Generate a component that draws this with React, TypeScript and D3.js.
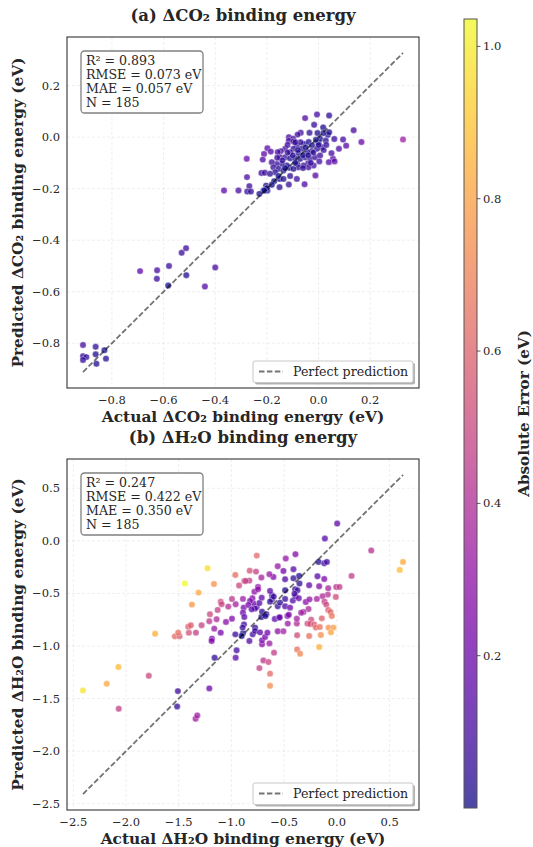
import React from "react";
import * as d3 from "d3";

// [actual, predicted] pairs, eV
const co2Points: [number, number][] = [
  [-0.912, -0.807], [-0.863, -0.814], [-0.912, -0.85], [-0.899, -0.854], [-0.863, -0.843],
  [-0.829, -0.827], [-0.912, -0.865], [-0.86, -0.88], [-0.823, -0.86],
  [-0.691, -0.52], [-0.625, -0.517], [-0.626, -0.55], [-0.579, -0.5], [-0.582, -0.576],
  [-0.53, -0.449], [-0.513, -0.431], [-0.512, -0.536], [-0.4, -0.506], [-0.44, -0.58],
  [-0.366, -0.207], [-0.31, -0.207], [-0.278, -0.084], [-0.277, -0.155], [-0.268, -0.19],
  [-0.276, -0.211], [-0.262, -0.211], [-0.221, -0.139], [-0.213, -0.207], [-0.198, -0.207],
  [-0.203, -0.188], [-0.211, -0.065], [-0.216, -0.087], [-0.198, -0.043], [-0.185, -0.056],
  [-0.052, 0.074], [-0.006, 0.088], [0.041, 0.084], [-0.017, 0.048], [0.136, 0.027],
  [0.166, -0.019], [0.327, -0.009], [0.107, -0.033], [0.095, -0.009], [0.061, -0.007],
  [0.079, -0.045], [0.056, -0.084], [0.04, -0.097], [-0.054, -0.183], [-0.012, -0.149],
  [-0.151, -0.194], [-0.11, -0.151], [-0.084, -0.162],
  [0.018, 0.038], [-0.208, -0.138], [-0.115, -0.184], [-0.151, -0.162], [-0.113, -0.119],
  [-0.083, -0.102], [-0.04, -0.101], [0.062, -0.094], [0.05, -0.062], [0.036, 0.009],
  [0.019, 0.016], [0.041, 0.019], [-0.004, 0.016], [-0.035, 0.017], [-0.069, 0.017],
  [-0.081, 0.01], [-0.115, 0.0], [-0.098, -0.006], [-0.115, -0.014], [-0.097, -0.017],
  [-0.084, -0.032], [-0.056, -0.026], [-0.038, -0.019], [-0.025, -0.032], [0.0, -0.021],
  [0.006, -0.006], [0.028, -0.013], [0.013, -0.039], [-0.006, -0.045], [-0.026, -0.054],
  [-0.043, -0.058], [-0.065, -0.045], [-0.078, -0.062], [-0.097, -0.045], [-0.11, -0.058],
  [-0.129, -0.045], [-0.146, -0.054], [-0.158, -0.058], [-0.149, -0.078], [-0.129, -0.078],
  [-0.11, -0.082], [-0.091, -0.082], [-0.071, -0.084], [-0.052, -0.078], [-0.032, -0.084],
  [-0.013, -0.078], [0.006, -0.071], [0.003, -0.094], [-0.019, -0.11], [-0.039, -0.117],
  [-0.058, -0.11], [-0.078, -0.117], [-0.097, -0.123], [-0.123, -0.11], [-0.142, -0.104],
  [-0.162, -0.104], [-0.181, -0.097], [-0.175, -0.117], [-0.155, -0.123], [-0.136, -0.129],
  [-0.168, -0.136], [-0.188, -0.142], [-0.155, -0.151], [-0.136, -0.162], [-0.2, -0.198],
  [-0.172, -0.171], [-0.181, -0.185], [-0.21, -0.207], [-0.229, -0.22],
  [-0.12, -0.03], [-0.06, -0.07], [-0.02, -0.06], [-0.09, -0.1], [-0.05, -0.04],
  [-0.14, -0.09], [-0.07, -0.02], [0.02, -0.05], [-0.03, -0.1], [-0.1, -0.07],
  [-0.08, -0.05], [-0.04, -0.07], [-0.16, -0.08], [0.0, -0.03], [-0.12, -0.06],
  [-0.06, -0.12], [-0.01, -0.01], [-0.09, -0.02], [-0.13, -0.12], [0.03, -0.03],
];

const h2oPoints: [number, number][] = [
  [-2.408, -1.422], [-2.183, -1.359], [-2.072, -1.2], [-2.069, -1.597], [-1.784, -1.283],
  [-1.724, -0.883], [-1.508, -1.429], [-1.515, -1.575], [-1.34, -1.692], [-1.324, -1.66],
  [-1.21, -1.403], [-1.16, -1.111],
  [-1.537, -0.908], [-1.492, -0.908], [-1.505, -0.873], [-1.404, -0.873], [-1.41, -0.816],
  [-1.385, -0.803], [-1.337, -0.873],
  [-1.375, -0.606], [-1.442, -0.406], [-1.312, -0.492], [-1.226, -0.26], [-1.166, -0.41],
  [-1.283, -0.803], [-1.204, -0.698], [-1.21, -0.765], [-1.163, -0.835], [-1.141, -0.746],
  [-1.131, -0.657], [-1.102, -0.578], [-1.093, -0.603], [-1.102, -0.873], [-1.185, -0.93],
  [-1.188, -0.952],
  [-1.052, -0.771], [-0.995, -0.74], [-0.995, -0.552], [-1.03, -0.625], [-0.96, -0.603],
  [-0.963, -0.324], [-0.928, -0.425], [-0.878, -0.381], [-0.827, -0.283], [-0.76, -0.14],
  [-0.891, -0.552], [-0.884, -0.635], [-0.891, -0.683], [-0.878, -0.724], [-0.881, -0.794],
  [-0.963, -0.889], [-0.951, -1.041], [-0.96, -1.111], [-0.891, -0.879], [-0.894, -0.825],
  [-0.903, -0.905],
  [-0.83, -0.952], [-0.798, -0.889], [-0.776, -0.825], [-0.776, -0.857], [-0.729, -0.87],
  [-0.71, -0.984], [-0.71, -0.946], [-0.681, -0.914], [-0.659, -0.873], [-0.64, -0.975],
  [-0.697, -1.137], [-0.649, -1.152], [-0.735, -1.21], [-0.634, -1.263], [-0.634, -1.378],
  [-0.596, -1.063], [-0.561, -0.86], [-0.507, -0.86], [-0.589, -0.743], [-0.548, -0.73],
  [-0.469, -0.714], [-0.466, -0.787], [-0.38, -0.787], [-0.38, -0.74], [-0.377, -0.898],
  [-0.377, -1.032],
  [-0.716, -0.724], [-0.71, -0.673], [-0.76, -0.629], [-0.735, -0.59], [-0.713, -0.54],
  [-0.792, -0.594], [-0.801, -0.546], [-0.782, -0.483], [-0.748, -0.438], [-0.748, -0.46],
  [-0.824, -0.571], [-0.84, -0.61], [-0.776, -0.644], [-0.669, -0.698],
  [-0.615, -0.517], [-0.615, -0.556], [-0.634, -0.578], [-0.599, -0.53], [-0.561, -0.622],
  [-0.542, -0.727], [-0.491, -0.622], [-0.456, -0.702], [-0.444, -0.635], [-0.418, -0.568],
  [-0.393, -0.527], [-0.396, -0.46], [-0.361, -0.546],
  [-0.355, -0.406], [-0.358, -0.333], [-0.412, -0.356], [-0.412, -0.27], [-0.491, -0.365],
  [-0.507, -0.286], [-0.485, -0.168], [-0.393, -0.127], [-0.561, -0.241], [-0.602, -0.343],
  [-0.64, -0.317], [-0.716, -0.349], [-0.83, -0.378], [-0.767, -0.292], [-0.865, -0.381],
  [-0.491, -0.47], [-0.374, -0.47], [-0.402, -0.502], [-0.491, -0.552], [-0.539, -0.587],
  [-0.634, -0.476], [-0.678, -0.714], [-0.808, -0.651],
  [0.003, 0.165], [-0.114, 0.022], [0.326, -0.092], [0.627, -0.2], [0.596, -0.276],
  [-0.174, -0.2], [-0.12, -0.213], [-0.095, -0.2], [0.139, -0.333], [-0.184, -0.337],
  [-0.12, -0.362], [-0.263, -0.422], [-0.168, -0.432], [-0.082, -0.451], [-0.006, -0.438],
  [0.025, -0.438], [-0.01, -0.533], [-0.086, -0.511], [-0.136, -0.527], [-0.19, -0.552],
  [-0.117, -0.578], [-0.101, -0.606], [-0.082, -0.657], [-0.06, -0.676], [-0.048, -0.714],
  [-0.295, -0.581], [-0.269, -0.648], [-0.317, -0.676], [-0.143, -0.737], [-0.244, -0.749],
  [-0.279, -0.787], [-0.254, -0.79], [-0.215, -0.794], [-0.2, -0.825], [-0.162, -0.819],
  [-0.079, -0.825], [-0.032, -0.825], [-0.057, -0.87], [-0.152, -0.895], [-0.263, -0.905],
  [-0.168, -1.01], [-0.349, -1.073], [-0.339, -0.683], [-0.26, -0.556],
];

const co2Ticks = [-0.8, -0.6, -0.4, -0.2, 0.0, 0.2];
const h2oTicks = [-2.5, -2.0, -1.5, -1.0, -0.5, 0.0, 0.5];
const errorTicks = [0.2, 0.4, 0.6, 0.8, 1.0];
const co2Stats = ["R² = 0.893", "RMSE = 0.073 eV", "MAE = 0.057 eV", "N = 185"];
const h2oStats = ["R² = 0.247", "RMSE = 0.422 eV", "MAE = 0.350 eV", "N = 185"];

const FONT = '"DejaVu Serif", serif';
const ALPHA = 0.74;
const INK = "#262626";

const allErrors = [...co2Points, ...h2oPoints].map(([a, p]) => Math.abs(p - a));
const errExtent = d3.extent(allErrors) as [number, number];
const color = d3.scaleSequential(d3.interpolatePlasma).domain(errExtent);
const fmt = d3.format(".1f");

type PanelProps = {
  points: [number, number][];
  ticks: number[];
  stats: string[];
  title: string;
  xLabel: string;
  yLabel: string;
  top: number;
};

const Panel = ({ points, ticks, stats, title, xLabel, yLabel, top }: PanelProps) => {
  const left = 67, right = 419, bottom = top + 351;
  const vals = points.flat();
  const lo = d3.min(vals) as number;
  const hi = d3.max(vals) as number;
  const pad = (hi - lo) * 0.05;
  const x = d3.scaleLinear().domain([lo - pad, hi + pad]).range([left, right]);
  const y = d3.scaleLinear().domain([lo - pad, hi + pad]).range([bottom, top]);
  const cx = (left + right) / 2;
  const cy = (top + bottom) / 2;

  return (
    <g>
      {/* grid */}
      {ticks.map((t) => (
        <g key={"g" + t} stroke="#b0b0b0" strokeOpacity={0.25} strokeWidth={0.8} strokeDasharray="3,2">
          <line x1={x(t)} x2={x(t)} y1={top} y2={bottom} />
          <line x1={left} x2={right} y1={y(t)} y2={y(t)} />
        </g>
      ))}
      {/* points */}
      {points.map(([a, p], i) => (
        <circle key={i} cx={x(a)} cy={y(p)} r={3.2}
          fill={color(Math.abs(p - a))} fillOpacity={ALPHA}
          stroke="#fff" strokeOpacity={ALPHA} strokeWidth={0.5} />
      ))}
      {/* perfect prediction */}
      <line x1={x(lo)} y1={y(lo)} x2={x(hi)} y2={y(hi)}
        stroke="#000" strokeOpacity={0.55} strokeWidth={1.8} strokeDasharray="5.5,2.4" />
      <rect x={left} y={top} width={right - left} height={bottom - top}
        fill="none" stroke="#333" strokeWidth={1.1} />
      {/* tick labels */}
      {ticks.map((t) => (
        <text key={"x" + t} x={x(t)} y={bottom + 16} textAnchor="middle"
          fontSize={11.5} fill={INK}>{fmt(t)}</text>
      ))}
      {ticks.map((t) => (
        <text key={"y" + t} x={left - 7} y={y(t)} dy="0.35em" textAnchor="end"
          fontSize={11.5} fill={INK}>{fmt(t)}</text>
      ))}
      <text x={cx} y={top - 16} textAnchor="middle" fontSize={16.5} fontWeight="bold" fill={INK}>{title}</text>
      <text x={cx} y={bottom + 33.5} textAnchor="middle" fontSize={15.4} fontWeight="bold" fill={INK}>{xLabel}</text>
      <text transform={`translate(18,${cy}) rotate(-90)`} textAnchor="middle" dy="0.35em"
        fontSize={15.4} fontWeight="bold" fill={INK}>{yLabel}</text>
      {/* stats box */}
      <rect x={left + 14} y={top + 14} width={122} height={62} rx={3.5}
        fill="#fff" fillOpacity={0.85} stroke="#808080" strokeWidth={1.3} />
      {stats.map((s, i) => (
        <text key={s} x={left + 19} y={top + 27.5 + i * 14} fontSize={12.6} fill={INK}>{s}</text>
      ))}
      {/* legend */}
      <rect x={right - 164} y={bottom - 25} width={160} height={21.5} rx={2}
        fill="#000" fillOpacity={0.3} />
      <rect x={right - 166} y={bottom - 27} width={160} height={21.5} rx={2}
        fill="#fff" stroke="#c8c8c8" strokeWidth={1} />
      <line x1={right - 160} x2={right - 136} y1={bottom - 16.5} y2={bottom - 16.5}
        stroke="#000" strokeOpacity={0.55} strokeWidth={1.8} strokeDasharray="5.5,2.4" />
      <text x={right - 126} y={bottom - 16.5} dy="0.35em" fontSize={12.6} fill={INK}>Perfect prediction</text>
    </g>
  );
};

const Colorbar = () => {
  const x0 = 464, w = 13, top = 19, bottom = 808;
  const s = d3.scaleLinear().domain(errExtent).range([bottom, top]);
  const stops = d3.range(0, 1.0001, 0.05);
  return (
    <g>
      <defs>
        <linearGradient id="plasmaGrad" x1="0" y1="1" x2="0" y2="0">
          {stops.map((t) => (
            <stop key={t} offset={t} stopColor={d3.interpolatePlasma(t)} stopOpacity={ALPHA} />
          ))}
        </linearGradient>
      </defs>
      <rect x={x0} y={top} width={w} height={bottom - top} fill="url(#plasmaGrad)"
        stroke="#555" strokeWidth={1} />
      {errorTicks.map((t) => (
        <g key={t}>
          <line x1={x0 + w} x2={x0 + w + 3.5} y1={s(t)} y2={s(t)} stroke="#333" strokeWidth={0.8} />
          <text x={x0 + w + 6} y={s(t)} dy="0.35em" fontSize={11.5} fill={INK}>{fmt(t)}</text>
        </g>
      ))}
      <text transform={`translate(524,${(top + bottom) / 2}) rotate(-90)`} textAnchor="middle"
        dy="0.35em" fontSize={15.2} fontWeight="bold" fill={INK}>Absolute Error (eV)</text>
    </g>
  );
};

export default function App() {
  return (
    <svg width={533} height={847} fontFamily={FONT}
      style={{ position: "absolute", left: 0, top: 0, background: "#fff" }}>
      <Panel points={co2Points} ticks={co2Ticks} stats={co2Stats} top={37}
        title="(a) ΔCO₂ binding energy"
        xLabel="Actual ΔCO₂ binding energy (eV)"
        yLabel="Predicted ΔCO₂ binding energy (eV)" />
      <Panel points={h2oPoints} ticks={h2oTicks} stats={h2oStats} top={459}
        title="(b) ΔH₂O binding energy"
        xLabel="Actual ΔH₂O binding energy (eV)"
        yLabel="Predicted ΔH₂O binding energy (eV)" />
      <Colorbar />
    </svg>
  );
}
